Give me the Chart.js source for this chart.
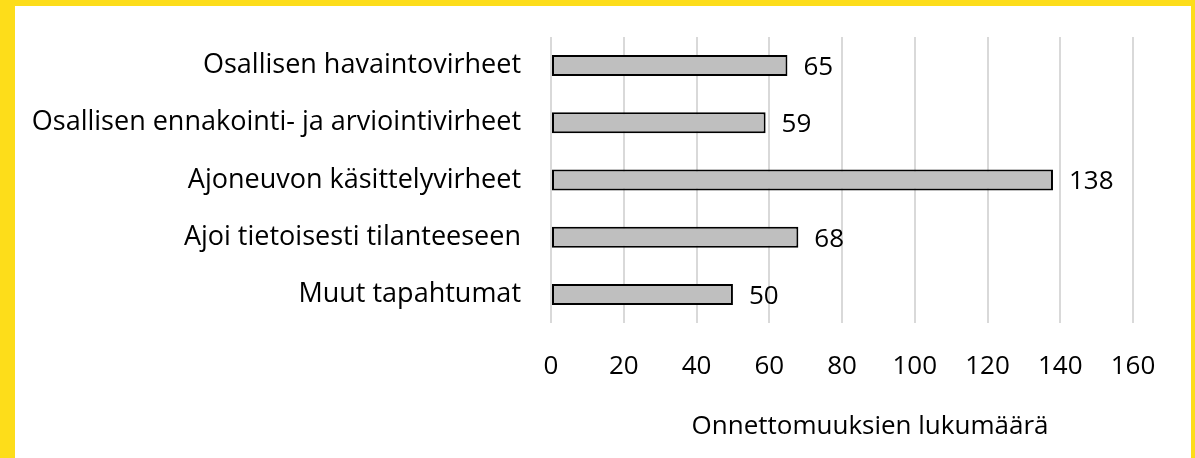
<!DOCTYPE html>
<html><head><meta charset="utf-8">
<script src="https://cdn.jsdelivr.net/npm/chart.js@4"></script>
<style>
html,body{margin:0;padding:0;background:#FDDD1A;width:1195px;height:458px;overflow:hidden}
#wrap{position:absolute;left:15px;top:6px;width:1176px;height:452px;background:#fff}
canvas{display:block}
</style></head><body>
<div id="wrap"><canvas id="c" width="1176" height="452"></canvas></div>
<script>
const categories = [
  'Osallisen havaintovirheet',
  'Osallisen ennakointi- ja arviointivirheet',
  'Ajoneuvon käsittelyvirheet',
  'Ajoi tietoisesti tilanteeseen',
  'Muut tapahtumat'
];
const values = [65, 59, 138, 68, 50];
const xMin = 0, xMax = 160, xStep = 20;
const axisTitle = 'Onnettomuuksien lukumäärä';

const FONT = '"Open Sans", "Noto Sans", sans-serif';

const valueLabels = {
  id: 'valueLabels',
  afterDatasetsDraw(chart) {
    const ctx = chart.ctx;
    const meta = chart.getDatasetMeta(0);
    ctx.save();
    ctx.font = '26px ' + FONT;
    ctx.fillStyle = '#000';
    ctx.textAlign = 'left';
    ctx.textBaseline = 'middle';
    meta.data.forEach((bar, i) => {
      ctx.fillText(String(values[i]), bar.x + 16, bar.y + 2);
    });
    ctx.restore();
  }
};

const xTitle = {
  id: 'xTitle',
  afterDraw(chart) {
    const ctx = chart.ctx;
    const a = chart.chartArea;
    ctx.save();
    ctx.font = '26px ' + FONT;
    ctx.fillStyle = '#000';
    ctx.textAlign = 'center';
    ctx.textBaseline = 'middle';
    ctx.fillText(axisTitle, (a.left + a.right) / 2 + 28, 421);
    ctx.restore();
  }
};

new Chart(document.getElementById('c'), {
  type: 'bar',
  data: {
    labels: categories,
    datasets: [{
      data: values,
      backgroundColor: '#BFBFBF',
      borderColor: '#000',
      borderWidth: 2,
      borderSkipped: false,
      barPercentage: 0.367,
      categoryPercentage: 1
    }]
  },
  options: {
    indexAxis: 'y',
    responsive: false,
    animation: false,
    devicePixelRatio: 1,
    layout: { padding: { top: 31, right: 58, left: 0, bottom: 0 } },
    plugins: { legend: { display: false }, tooltip: { enabled: false } },
    scales: {
      x: {
        type: 'linear', min: xMin, max: xMax,
        ticks: { stepSize: xStep, font: { size: 26, family: FONT }, color: '#000', padding: 28 },
        grid: { color: '#D9D9D9', lineWidth: 2, drawTicks: false },
        border: { display: false },
        afterFit(s) { s.height = 135; s.paddingLeft = 0; s.paddingRight = 0; }
      },
      y: {
        grid: { display: false, drawTicks: false },
        border: { display: false },
        ticks: { font: { size: 27, family: FONT }, color: '#000', padding: 30 },
        afterFit(s) { s.width = 536; s.paddingTop = 0; s.paddingBottom = 0; }
      }
    }
  },
  plugins: [valueLabels, xTitle]
});
</script>
</body></html>
